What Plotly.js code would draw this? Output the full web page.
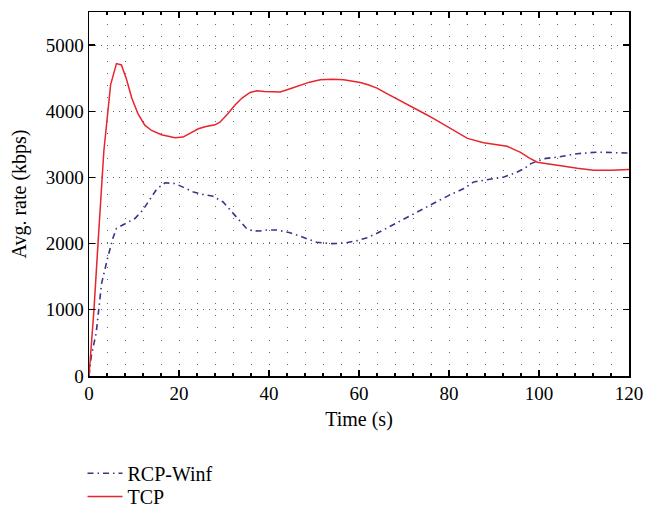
<!DOCTYPE html>
<html>
<head>
<meta charset="utf-8">
<script src="https://cdn.plot.ly/plotly-3.0.1.min.js"></script>
<style>html,body{margin:0;padding:0;background:#fff}#chart{width:646px;height:507px}</style>
</head>
<body>
<div id="chart"></div>
<script>
const tcpTime = [0,0.5,1.1,2,3.3,4.8,6.1,7.2,8.3,9.5,10.9,12.4,13.9,16.1,19.1,20.9,22.5,24.3,26,28,29.1,30.7,32.4,34,35.8,37.3,39,41,42.5,44.7,46.9,49,51.4,54,56.6,58.5,60.3,62,64,66,68.1,70,72.2,74.4,76.6,78.8,81.1,84.1,87.7,90.3,92.9,95.9,97.7,99.6,102.6,105.6,108.5,112.2,116,120];
const tcpRate = [0,450,1000,2000,3400,4400,4720,4700,4490,4200,3960,3790,3710,3645,3600,3610,3670,3735,3770,3795,3835,3950,4090,4200,4285,4310,4300,4290,4290,4340,4390,4440,4475,4485,4478,4460,4436,4400,4350,4275,4196,4130,4050,3970,3890,3800,3710,3590,3525,3500,3470,3380,3300,3230,3195,3170,3140,3108,3108,3120];
const rcpTime = [0,0.5,1.6,2.2,2.8,4.2,5.3,6.1,8.3,10.2,12,13.5,15,16.9,19.1,21,23.2,25.5,27.6,29.8,32.1,35,36.2,37.8,39.5,41.7,44.7,47.7,50.6,53.6,56.6,59.6,61.8,64,67.7,71.4,75.1,78,80.3,83.3,85.5,88.5,92.2,94.4,96.7,98.2,101.1,104.1,108.5,113,116.7,120];
const rcpRate = [0,300,650,1050,1400,1800,2080,2230,2315,2380,2510,2670,2820,2920,2908,2850,2780,2740,2715,2630,2460,2230,2196,2191,2205,2206,2166,2096,2021,2000,2006,2045,2090,2156,2291,2432,2556,2660,2740,2832,2932,2968,3008,3058,3133,3209,3284,3308,3359,3383,3379,3368];
const seriesNames = ["RCP-Winf", "TCP"];
const xTickVals = [0,20,40,60,80,100,120];
const yTickVals = [0,1000,2000,3000,4000,5000];

const font = "'Liberation Serif', 'DejaVu Serif', serif";
const legendFont = {family: font, size: 20, color: "#000"};
const traces = [
  {x: rcpTime, y: rcpRate, name: seriesNames[0], type: "scatter", mode: "lines", legend: "legend",
   line: {color: "#3d3488", width: 1.6, dash: "6px,4px,1.5px,4px"}},
  {x: tcpTime, y: tcpRate, name: seriesNames[1], type: "scatter", mode: "lines", legend: "legend2",
   line: {color: "#e8242c", width: 1.5}}
];
const layout = {
  width: 646, height: 507,
  margin: {l: 89, r: 17, t: 12, b: 131, autoexpand: false},
  paper_bgcolor: "#fff", plot_bgcolor: "#fff",
  font: {family: font, size: 19, color: "#000"},
  showlegend: true,
  legend: {x: -0.012, y: -0.267, xanchor: "left", yanchor: "middle", itemwidth: 35,
           borderwidth: 0, font: legendFont, bgcolor: "rgba(0,0,0,0)"},
  legend2: {x: -0.012, y: -0.331, xanchor: "left", yanchor: "middle", itemwidth: 35,
           borderwidth: 0, font: legendFont, bgcolor: "rgba(0,0,0,0)"},
  xaxis: {
    range: [0, 120], tickvals: xTickVals, ticktext: xTickVals.map(String),
    showline: true, linecolor: "#000", linewidth: 1.5, mirror: "allticks",
    ticks: "inside", ticklen: 6, tickcolor: "#000", tickwidth: 1.2,
    showgrid: true, gridcolor: "#666", gridwidth: 1, griddash: "1px,11.13px",
    zeroline: false,
    minor: {dtick: 4, tick0: 0, ticks: "inside", ticklen: 3, tickcolor: "#000",
            showgrid: true, gridcolor: "#666", gridwidth: 1, griddash: "1px,11.13px"},
    tickfont: {family: font, size: 19, color: "#000"},
    title: {text: "Time (s)", font: {family: font, size: 20, color: "#000"}, standoff: 8}
  },
  yaxis: {
    range: [0, 5500], tickvals: yTickVals, ticktext: yTickVals.map(String),
    showline: true, linecolor: "#000", linewidth: 1.5, mirror: "allticks",
    ticks: "inside", ticklen: 6, tickcolor: "#000", tickwidth: 1.2,
    showgrid: true, gridcolor: "#666", gridwidth: 1, griddash: "1px,5px",
    zeroline: false,
    tickfont: {family: font, size: 19, color: "#000"},
    title: {text: "Avg. rate (kbps)", font: {family: font, size: 20, color: "#000"}, standoff: 13}
  }
};
Plotly.newPlot("chart", traces, layout, {staticPlot: true, displayModeBar: false});
</script>
</body>
</html>
